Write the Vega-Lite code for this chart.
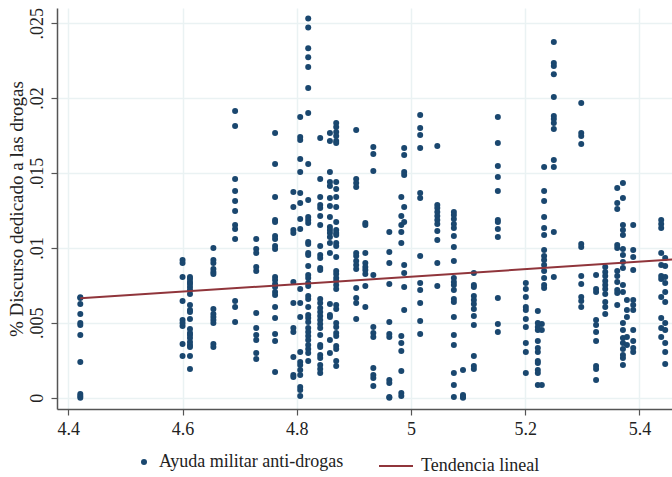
{
"$schema": "https://vega.github.io/schema/vega-lite/v6.json",
"width": 615, "height": 401,
"autosize": {"type": "none"},
"padding": {"left": 57, "top": 8, "right": 0, "bottom": 68},
"background": "white",
"config": {"view": {"stroke": null}, "font": "Liberation Serif"},
"datasets": {
"tendencia": [{"x": 4.421, "y": 0.00664}, {"x": 5.46, "y": 0.00923}],
"puntos": [
{"x":4.421,"y":0.0067},{"x":4.421,"y":0.00666},{"x":4.421,"y":0.00625},{"x":4.421,"y":0.00559},{"x":4.421,"y":0.00499},{"x":4.421,"y":0.00486},{"x":4.421,"y":0.00419},{"x":4.421,"y":0.00239},{"x":4.421,"y":0.00025},{"x":4.421,"y":0.00011},{"x":4.421,"y":0},
{"x":4.6,"y":0.00919},{"x":4.6,"y":0.00899},{"x":4.6,"y":0.00806},{"x":4.6,"y":0.00646},{"x":4.6,"y":0.00519},{"x":4.6,"y":0.00499},{"x":4.6,"y":0.00479},{"x":4.6,"y":0.00359},{"x":4.6,"y":0.00279},
{"x":4.613,"y":0.00806},{"x":4.613,"y":0.00792},{"x":4.613,"y":0.00772},{"x":4.613,"y":0.00759},{"x":4.613,"y":0.00739},{"x":4.613,"y":0.00719},{"x":4.613,"y":0.00692},{"x":4.613,"y":0.00619},{"x":4.613,"y":0.00585},{"x":4.613,"y":0.00572},{"x":4.613,"y":0.00525},{"x":4.613,"y":0.00459},{"x":4.613,"y":0.00432},{"x":4.613,"y":0.00419},{"x":4.613,"y":0.00399},{"x":4.613,"y":0.00372},{"x":4.613,"y":0.00352},{"x":4.613,"y":0.00339},{"x":4.613,"y":0.00279},{"x":4.613,"y":0.00192},
{"x":4.654,"y":0.00999},{"x":4.654,"y":0.00919},{"x":4.654,"y":0.00899},{"x":4.654,"y":0.00859},{"x":4.654,"y":0.00839},{"x":4.654,"y":0.00826},{"x":4.654,"y":0.00592},{"x":4.654,"y":0.00559},{"x":4.654,"y":0.00539},{"x":4.654,"y":0.00519},{"x":4.654,"y":0.00499},{"x":4.654,"y":0.00359},{"x":4.654,"y":0.00339},
{"x":4.692,"y":0.01914},{"x":4.692,"y":0.01814},{"x":4.692,"y":0.0146},{"x":4.692,"y":0.0138},{"x":4.692,"y":0.01313},{"x":4.692,"y":0.01246},{"x":4.692,"y":0.01153},{"x":4.692,"y":0.01126},{"x":4.692,"y":0.0106},{"x":4.692,"y":0.00646},{"x":4.692,"y":0.00605},{"x":4.692,"y":0.00505},
{"x":4.729,"y":0.0106},{"x":4.729,"y":0.00993},{"x":4.729,"y":0.00966},{"x":4.729,"y":0.00872},{"x":4.729,"y":0.00846},{"x":4.729,"y":0.00565},{"x":4.729,"y":0.00465},{"x":4.729,"y":0.00419},{"x":4.729,"y":0.00385},{"x":4.729,"y":0.00298},{"x":4.729,"y":0.00259},
{"x":4.762,"y":0.01767},{"x":4.762,"y":0.0156},{"x":4.762,"y":0.0134},{"x":4.762,"y":0.01186},{"x":4.762,"y":0.01173},{"x":4.762,"y":0.0108},{"x":4.762,"y":0.0106},{"x":4.762,"y":0.01013},{"x":4.762,"y":0.00993},{"x":4.762,"y":0.00806},{"x":4.762,"y":0.00785},{"x":4.762,"y":0.00759},{"x":4.762,"y":0.00739},{"x":4.762,"y":0.00705},{"x":4.762,"y":0.00685},{"x":4.762,"y":0.00605},{"x":4.762,"y":0.00532},{"x":4.762,"y":0.00425},{"x":4.762,"y":0.00379},{"x":4.762,"y":0.00172},
{"x":4.794,"y":0.01373},{"x":4.794,"y":0.01273},{"x":4.794,"y":0.0112},{"x":4.794,"y":0.011},{"x":4.794,"y":0.00772},{"x":4.794,"y":0.00632},{"x":4.794,"y":0.00465},{"x":4.794,"y":0.00439},{"x":4.794,"y":0.00272},{"x":4.794,"y":0.00152},{"x":4.794,"y":0.00138},
{"x":4.806,"y":0.01874},{"x":4.806,"y":0.0174},{"x":4.806,"y":0.0172},{"x":4.806,"y":0.01594},{"x":4.806,"y":0.01507},{"x":4.806,"y":0.01367},{"x":4.806,"y":0.013},{"x":4.806,"y":0.01193},{"x":4.806,"y":0.01126},{"x":4.806,"y":0.00725},{"x":4.806,"y":0.00632},{"x":4.806,"y":0.00539},{"x":4.806,"y":0.00305},{"x":4.806,"y":0.00239},{"x":4.806,"y":0.00218},{"x":4.806,"y":0.00185},{"x":4.806,"y":0.00152},{"x":4.806,"y":0.00071},{"x":4.806,"y":0.00051},{"x":4.806,"y":0.00011},
{"x":4.82,"y":0.02531},{"x":4.82,"y":0.02471},{"x":4.82,"y":0.02333},{"x":4.82,"y":0.02273},{"x":4.82,"y":0.02207},{"x":4.82,"y":0.02068},{"x":4.82,"y":0.01901},{"x":4.82,"y":0.0156},{"x":4.82,"y":0.0132},{"x":4.82,"y":0.01206},{"x":4.82,"y":0.01186},{"x":4.82,"y":0.01166},{"x":4.82,"y":0.01039},{"x":4.82,"y":0.01026},{"x":4.82,"y":0.00966},{"x":4.82,"y":0.00953},{"x":4.82,"y":0.00879},{"x":4.82,"y":0.00819},{"x":4.82,"y":0.00799},{"x":4.82,"y":0.00765},{"x":4.82,"y":0.00745},{"x":4.82,"y":0.00679},{"x":4.82,"y":0.00659},{"x":4.82,"y":0.00605},{"x":4.82,"y":0.00552},{"x":4.82,"y":0.00532},{"x":4.82,"y":0.00505},{"x":4.82,"y":0.00465},{"x":4.82,"y":0.00439},{"x":4.82,"y":0.00412},{"x":4.82,"y":0.00385},{"x":4.82,"y":0.00352},{"x":4.82,"y":0.00325},{"x":4.82,"y":0.00298},{"x":4.82,"y":0.00245},
{"x":4.841,"y":0.01734},{"x":4.841,"y":0.0146},{"x":4.841,"y":0.0134},{"x":4.841,"y":0.01286},{"x":4.841,"y":0.01266},{"x":4.841,"y":0.01213},{"x":4.841,"y":0.01153},{"x":4.841,"y":0.01013},{"x":4.841,"y":0.00953},{"x":4.841,"y":0.00933},{"x":4.841,"y":0.00866},{"x":4.841,"y":0.00852},{"x":4.841,"y":0.00659},{"x":4.841,"y":0.00632},{"x":4.841,"y":0.00599},{"x":4.841,"y":0.00572},{"x":4.841,"y":0.00545},{"x":4.841,"y":0.00519},{"x":4.841,"y":0.00492},{"x":4.841,"y":0.00465},{"x":4.841,"y":0.00419},{"x":4.841,"y":0.00352},{"x":4.841,"y":0.00339},{"x":4.841,"y":0.00285},{"x":4.841,"y":0.00265},{"x":4.841,"y":0.00218},{"x":4.841,"y":0.00192},{"x":4.841,"y":0.00165},
{"x":4.858,"y":0.01767},{"x":4.858,"y":0.01714},{"x":4.858,"y":0.01507},{"x":4.858,"y":0.0144},{"x":4.858,"y":0.01413},{"x":4.858,"y":0.01333},{"x":4.858,"y":0.0128},{"x":4.858,"y":0.01206},{"x":4.858,"y":0.0114},{"x":4.858,"y":0.0112},{"x":4.858,"y":0.011},{"x":4.858,"y":0.01073},{"x":4.858,"y":0.01033},{"x":4.858,"y":0.00966},{"x":4.858,"y":0.00625},{"x":4.858,"y":0.00552},{"x":4.858,"y":0.00539},{"x":4.858,"y":0.00385},{"x":4.858,"y":0.00298},
{"x":4.869,"y":0.01834},{"x":4.869,"y":0.01807},{"x":4.869,"y":0.01774},{"x":4.869,"y":0.01747},{"x":4.869,"y":0.01714},{"x":4.869,"y":0.017},{"x":4.869,"y":0.0144},{"x":4.869,"y":0.01393},{"x":4.869,"y":0.0134},{"x":4.869,"y":0.01273},{"x":4.869,"y":0.01173},{"x":4.869,"y":0.0112},{"x":4.869,"y":0.011},{"x":4.869,"y":0.01086},{"x":4.869,"y":0.01033},{"x":4.869,"y":0.01013},{"x":4.869,"y":0.00939},{"x":4.869,"y":0.00846},{"x":4.869,"y":0.00826},{"x":4.869,"y":0.00799},{"x":4.869,"y":0.00779},{"x":4.869,"y":0.00752},{"x":4.869,"y":0.00725},{"x":4.869,"y":0.00619},{"x":4.869,"y":0.00592},{"x":4.869,"y":0.00499},{"x":4.869,"y":0.00472},{"x":4.869,"y":0.00432},{"x":4.869,"y":0.00412},{"x":4.869,"y":0.00345},{"x":4.869,"y":0.00325},{"x":4.869,"y":0.00245},{"x":4.869,"y":0.00212},
{"x":4.904,"y":0.01787},{"x":4.904,"y":0.0146},{"x":4.904,"y":0.01433},{"x":4.904,"y":0.01407},{"x":4.904,"y":0.00966},{"x":4.904,"y":0.00946},{"x":4.904,"y":0.00913},{"x":4.904,"y":0.00886},{"x":4.904,"y":0.00859},{"x":4.904,"y":0.00732},{"x":4.904,"y":0.00666},{"x":4.904,"y":0.00632},{"x":4.904,"y":0.00525},
{"x":4.92,"y":0.01166},{"x":4.92,"y":0.01153},{"x":4.92,"y":0.00966},{"x":4.92,"y":0.00899},{"x":4.92,"y":0.00872},{"x":4.92,"y":0.00852},{"x":4.92,"y":0.00826},{"x":4.92,"y":0.00745},{"x":4.92,"y":0.00605},
{"x":4.934,"y":0.01674},{"x":4.934,"y":0.01627},{"x":4.934,"y":0.01513},{"x":4.934,"y":0.00819},{"x":4.934,"y":0.00472},{"x":4.934,"y":0.00432},{"x":4.934,"y":0.00405},{"x":4.934,"y":0.00198},{"x":4.934,"y":0.00152},{"x":4.934,"y":0.00132},{"x":4.934,"y":0.00078},
{"x":4.962,"y":0.01106},{"x":4.962,"y":0.00973},{"x":4.962,"y":0.00899},{"x":4.962,"y":0.00759},{"x":4.962,"y":0.00505},{"x":4.962,"y":0.00425},{"x":4.962,"y":0.00405},{"x":4.962,"y":0.00118},{"x":4.962,"y":0.00098},{"x":4.962,"y":0.00005},{"x":4.962,"y":0},
{"x":4.983,"y":0.0134},{"x":4.983,"y":0.01213},{"x":4.983,"y":0.01153},{"x":4.983,"y":0.01106},{"x":4.983,"y":0.01033},{"x":4.983,"y":0.00412},{"x":4.983,"y":0.00365},{"x":4.983,"y":0.00312},{"x":4.983,"y":0.00178},{"x":4.983,"y":0.00031},{"x":4.983,"y":0.00011},
{"x":4.988,"y":0.01667},{"x":4.988,"y":0.0162},{"x":4.988,"y":0.01507},{"x":4.988,"y":0.01487},{"x":4.988,"y":0.01273},{"x":4.988,"y":0.01173},{"x":4.988,"y":0.00886},{"x":4.988,"y":0.00832},{"x":4.988,"y":0.00739},{"x":4.988,"y":0.00585},
{"x":5.016,"y":0.01887},{"x":5.016,"y":0.018},{"x":5.016,"y":0.01754},{"x":5.016,"y":0.01667},{"x":5.016,"y":0.01367},{"x":5.016,"y":0.01333},{"x":5.016,"y":0.00946},{"x":5.016,"y":0.00765},{"x":5.016,"y":0.00719},{"x":5.016,"y":0.00632},{"x":5.016,"y":0.00512},{"x":5.016,"y":0.00425},
{"x":5.046,"y":0.0168},{"x":5.046,"y":0.01286},{"x":5.046,"y":0.01266},{"x":5.046,"y":0.0124},{"x":5.046,"y":0.01213},{"x":5.046,"y":0.01186},{"x":5.046,"y":0.0116},{"x":5.046,"y":0.01113},{"x":5.046,"y":0.01053},{"x":5.046,"y":0.00899},{"x":5.046,"y":0.00745},
{"x":5.075,"y":0.0124},{"x":5.075,"y":0.0122},{"x":5.075,"y":0.01193},{"x":5.075,"y":0.0116},{"x":5.075,"y":0.01133},{"x":5.075,"y":0.0108},{"x":5.075,"y":0.01006},{"x":5.075,"y":0.00913},{"x":5.075,"y":0.00799},{"x":5.075,"y":0.00772},{"x":5.075,"y":0.00752},{"x":5.075,"y":0.00719},{"x":5.075,"y":0.00659},{"x":5.075,"y":0.00639},{"x":5.075,"y":0.00539},{"x":5.075,"y":0.00419},{"x":5.075,"y":0.00352},{"x":5.075,"y":0.00165},{"x":5.075,"y":0.00085},{"x":5.075,"y":0.00005},
{"x":5.091,"y":0.00185},{"x":5.091,"y":0.00018},{"x":5.091,"y":0.00005},{"x":5.091,"y":0},
{"x":5.11,"y":0.00832},{"x":5.11,"y":0.00752},{"x":5.11,"y":0.00739},{"x":5.11,"y":0.00679},{"x":5.11,"y":0.00652},{"x":5.11,"y":0.00625},{"x":5.11,"y":0.00592},{"x":5.11,"y":0.00545},{"x":5.11,"y":0.00486},{"x":5.11,"y":0.00279},{"x":5.11,"y":0.00212},{"x":5.11,"y":0.00192},
{"x":5.152,"y":0.01874},{"x":5.152,"y":0.017},{"x":5.152,"y":0.01547},{"x":5.152,"y":0.01473},{"x":5.152,"y":0.0138},{"x":5.152,"y":0.01186},{"x":5.152,"y":0.01173},{"x":5.152,"y":0.01126},{"x":5.152,"y":0.01073},{"x":5.152,"y":0.00666},{"x":5.152,"y":0.00492},{"x":5.152,"y":0.00439},
{"x":5.201,"y":0.00765},{"x":5.201,"y":0.00725},{"x":5.201,"y":0.00672},{"x":5.201,"y":0.00605},{"x":5.201,"y":0.00585},{"x":5.201,"y":0.00525},{"x":5.201,"y":0.00472},{"x":5.201,"y":0.00365},{"x":5.201,"y":0.00305},{"x":5.201,"y":0.00165},
{"x":5.222,"y":0.00579},{"x":5.222,"y":0.00499},{"x":5.222,"y":0.00472},{"x":5.222,"y":0.00452},{"x":5.222,"y":0.00379},{"x":5.222,"y":0.00332},{"x":5.222,"y":0.00305},{"x":5.222,"y":0.00245},{"x":5.222,"y":0.00232},{"x":5.222,"y":0.00185},{"x":5.222,"y":0.00165},{"x":5.222,"y":0.00085},
{"x":5.229,"y":0.00492},{"x":5.229,"y":0.00452},{"x":5.229,"y":0.00085},
{"x":5.233,"y":0.0154},{"x":5.233,"y":0.0138},{"x":5.233,"y":0.01313},{"x":5.233,"y":0.01206},{"x":5.233,"y":0.01133},{"x":5.233,"y":0.01086},{"x":5.233,"y":0.00986},{"x":5.233,"y":0.00946},{"x":5.233,"y":0.00919},{"x":5.233,"y":0.00886},{"x":5.233,"y":0.00846},{"x":5.233,"y":0.00799},{"x":5.233,"y":0.00752},{"x":5.233,"y":0.00732},
{"x":5.25,"y":0.02374},{"x":5.25,"y":0.02234},{"x":5.25,"y":0.02214},{"x":5.25,"y":0.0216},{"x":5.25,"y":0.02008},{"x":5.25,"y":0.0188},{"x":5.25,"y":0.01861},{"x":5.25,"y":0.01834},{"x":5.25,"y":0.01794},{"x":5.25,"y":0.01587},{"x":5.25,"y":0.0154},{"x":5.25,"y":0.01106},{"x":5.25,"y":0.00806},
{"x":5.298,"y":0.01967},{"x":5.298,"y":0.01767},{"x":5.298,"y":0.01747},{"x":5.298,"y":0.01694},{"x":5.298,"y":0.01026},{"x":5.298,"y":0.01006},{"x":5.298,"y":0.00812},{"x":5.298,"y":0.00759},{"x":5.298,"y":0.00672},{"x":5.298,"y":0.00646},{"x":5.298,"y":0.00605},
{"x":5.324,"y":0.00819},{"x":5.324,"y":0.00725},{"x":5.324,"y":0.00705},{"x":5.324,"y":0.00519},{"x":5.324,"y":0.00486},{"x":5.324,"y":0.00439},{"x":5.324,"y":0.00379},{"x":5.324,"y":0.00212},{"x":5.324,"y":0.00192},{"x":5.324,"y":0.00118},
{"x":5.34,"y":0.00872},{"x":5.34,"y":0.00839},{"x":5.34,"y":0.00812},{"x":5.34,"y":0.00779},{"x":5.34,"y":0.00752},{"x":5.34,"y":0.00725},{"x":5.34,"y":0.00692},{"x":5.34,"y":0.00639},{"x":5.34,"y":0.00605},{"x":5.34,"y":0.00559},
{"x":5.361,"y":0.014},{"x":5.361,"y":0.013},{"x":5.361,"y":0.0126},{"x":5.361,"y":0.01019},{"x":5.361,"y":0.00999},{"x":5.361,"y":0.00846},{"x":5.361,"y":0.00812},{"x":5.361,"y":0.00772},{"x":5.361,"y":0.00719},{"x":5.361,"y":0.00699},{"x":5.361,"y":0.00619},
{"x":5.371,"y":0.01433},{"x":5.371,"y":0.01333},{"x":5.371,"y":0.01153},{"x":5.371,"y":0.0112},{"x":5.371,"y":0.01086},{"x":5.371,"y":0.00993},{"x":5.371,"y":0.00953},{"x":5.371,"y":0.00906},{"x":5.371,"y":0.00866},{"x":5.371,"y":0.00752},{"x":5.371,"y":0.00705},{"x":5.371,"y":0.00499},{"x":5.371,"y":0.00452},{"x":5.371,"y":0.00399},{"x":5.371,"y":0.00365},{"x":5.371,"y":0.00325},{"x":5.371,"y":0.00285},{"x":5.371,"y":0.00265},{"x":5.371,"y":0.00218},
{"x":5.378,"y":0.00652},{"x":5.378,"y":0.00585},{"x":5.378,"y":0.00539},{"x":5.378,"y":0.00405},{"x":5.378,"y":0.00352},
{"x":5.389,"y":0.01153},{"x":5.389,"y":0.00986},{"x":5.389,"y":0.00939},{"x":5.389,"y":0.00852},{"x":5.389,"y":0.00652},{"x":5.389,"y":0.00619},{"x":5.389,"y":0.00585},{"x":5.389,"y":0.00452},{"x":5.389,"y":0.00379},{"x":5.389,"y":0.00332},{"x":5.389,"y":0.00305},
{"x":5.438,"y":0.01186},{"x":5.438,"y":0.0116},{"x":5.438,"y":0.01133},{"x":5.438,"y":0.00966},{"x":5.438,"y":0.00886},{"x":5.438,"y":0.00812},{"x":5.438,"y":0.00792},{"x":5.438,"y":0.00672},{"x":5.438,"y":0.00532},{"x":5.438,"y":0.00465},{"x":5.438,"y":0.00405},
{"x":5.445,"y":0.00933},{"x":5.445,"y":0.00879},{"x":5.445,"y":0.00806},{"x":5.445,"y":0.00765},{"x":5.445,"y":0.00705},{"x":5.445,"y":0.00639},{"x":5.445,"y":0.00499},{"x":5.445,"y":0.00452},{"x":5.445,"y":0.00365},{"x":5.445,"y":0.00305},{"x":5.445,"y":0.00225}
]
},
"layer": [
{
"data": {"name": "puntos"},
"mark": {"type": "circle", "size": 36, "opacity": 1},
"encoding": {
"x": {"field": "x", "type": "quantitative", "scale": {"domain": [4.3802, 5.4569], "nice": false, "zero": false},
 "axis": {"values": [4.4, 4.6, 4.8, 5, 5.2, 5.4], "format": "~g", "title": null, "grid": true, "gridColor": "#eaf2f3", "gridWidth": 1.5, "domainColor": "#555", "domainWidth": 1.5, "tickColor": "#555", "tickSize": 6, "tickWidth": 1.2, "labelFontSize": 18, "labelColor": "#222", "labelPadding": 5, "labelFont": "Liberation Serif"}},
"y": {"field": "y", "type": "quantitative", "scale": {"domain": [-0.000754, 0.026015], "nice": false, "zero": false},
 "axis": {"values": [0, 0.005, 0.01, 0.015, 0.02, 0.025], "labelExpr": "replace(format(datum.value,'~g'),'0.','.')", "title": "% Discurso dedicado a las drogas", "titleFontSize": 19, "titleFontWeight": "normal", "titleColor": "#222", "titleFont": "Liberation Serif", "titlePadding": 2, "grid": true, "gridColor": "#eaf2f3", "gridWidth": 1.5, "domainColor": "#555", "domainWidth": 1.5, "tickColor": "#555", "tickSize": 6, "tickWidth": 1.2, "labelFontSize": 18, "labelColor": "#222", "labelFont": "Liberation Serif", "labelAngle": -90, "labelAlign": "center", "labelBaseline": "bottom", "labelPadding": 5}},
"color": {"datum": "Ayuda militar anti-drogas", "type": "nominal", "scale": {"range": ["#1a476f"]},
 "legend": {"orient": "none", "legendX": 78, "legendY": 445, "title": null, "labelFontSize": 18, "labelFont": "Liberation Serif", "labelColor": "#222", "labelLimit": 0, "symbolSize": 36, "symbolType": "circle", "labelOffset": 6, "padding": 0}}
}
},
{
"data": {"name": "tendencia"},
"mark": {"type": "line", "strokeWidth": 2, "clip": true},
"encoding": {
"x": {"field": "x", "type": "quantitative"},
"y": {"field": "y", "type": "quantitative"},
"stroke": {"datum": "Tendencia lineal", "type": "nominal", "scale": {"range": ["#90353b"]},
 "legend": {"orient": "none", "legendX": 321, "legendY": 440, "title": null, "labelFontSize": 18, "labelFont": "Liberation Serif", "labelColor": "#222", "labelLimit": 0, "symbolType": "stroke", "symbolSize": 1156, "symbolStrokeWidth": 2, "labelOffset": 7, "padding": 0}}
}
}
]
}
